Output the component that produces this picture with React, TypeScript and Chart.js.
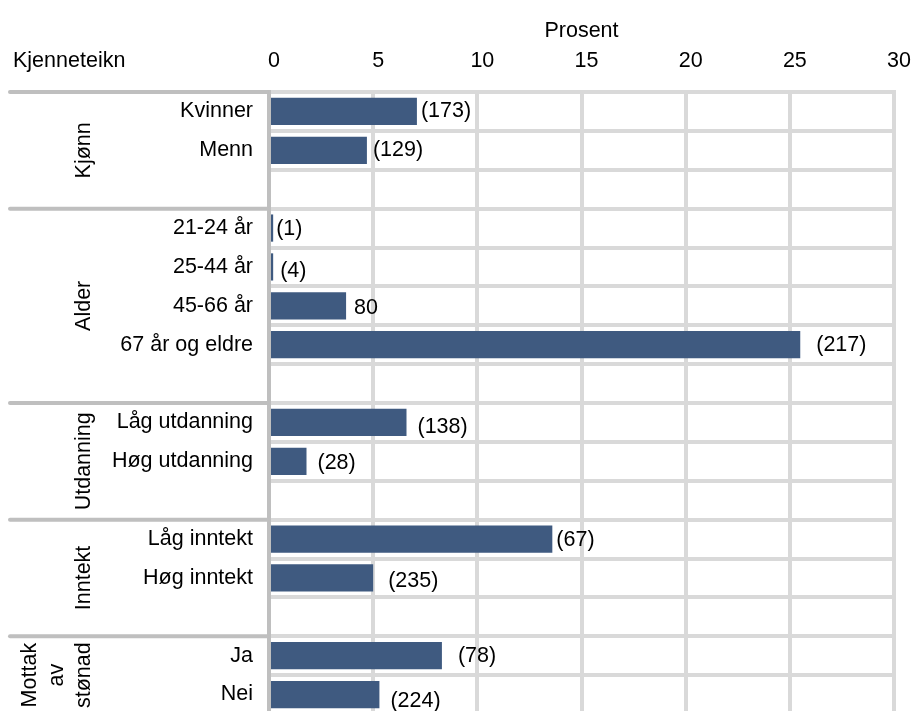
import React, { useEffect, useRef } from 'react';
import { Chart, registerables } from 'chart.js';

Chart.register(...registerables);

// ---- data ----
const rowLabels = [
  'Kvinner', 'Menn', '',
  '21-24 år', '25-44 år', '45-66 år', '67 år og eldre', '',
  'Låg utdanning', 'Høg utdanning', '',
  'Låg inntekt', 'Høg inntekt', '',
  'Ja', 'Nei',
];
const values: (number | null)[] = [
  7.1, 4.7, null,
  0.2, 0.2, 3.7, 25.5, null,
  6.6, 1.8, null,
  13.6, 5.0, null,
  8.3, 5.3,
];
const valueLabels = [
  '(173)', '(129)', '',
  '(1)', '(4)', '80', '(217)', '',
  '(138)', '(28)', '',
  '(67)', '(235)', '',
  '(78)', '(224)',
];
const groupNames = [['Kjønn'], ['Alder'], ['Utdanning'], ['Inntekt'], ['Mottak', 'av', 'stønad']];
const groupFirstRow = [0, 3, 8, 11, 14];
const groupLastRow = [2, 7, 10, 13, 15];
const xMin = 0;
const xMax = 30;
const xStep = 5;
const xTitle = 'Prosent';
const headerLabel = 'Kjenneteikn';

// ---- styling ----
const FONT = '"Liberation Sans", Arial, sans-serif';
const FS = 21.5;
const BAR = '#3f5a80';
const GRID_LIGHT = '#d9d9d9';
const GRID_DARK = '#bfbfbf';
const TICK_PAD = 18;
// label nudges in px (dx from bar end, dy from row centre)
const labelNudge: [number, number][] = [
  [4, 0], [6, 0], [0, 0],
  [3, 1], [7, 4], [8, 2], [16, 0], [0, 0],
  [11, 5], [11, 2], [0, 0],
  [4, 1], [15, 3], [0, 0],
  [16, 0], [11, 7],
];

const decorPlugin = {
  id: 'decor',
  afterDraw(chart: any) {
    const { ctx, chartArea } = chart;
    const y = chart.scales.y;
    const rowH = y.getPixelForValue(1) - y.getPixelForValue(0);
    ctx.save();
    // left group separators
    ctx.strokeStyle = GRID_DARK;
    ctx.lineWidth = 4;
    ctx.lineCap = 'round';
    groupFirstRow.forEach((r) => {
      const yy = y.getPixelForValue(r) - rowH / 2;
      ctx.beginPath();
      ctx.moveTo(10, yy);
      ctx.lineTo(chartArea.left - 2, yy);
      ctx.stroke();
    });
    ctx.fillStyle = '#000';
    ctx.font = `${FS}px ${FONT}`;
    // header
    ctx.textAlign = 'left';
    ctx.textBaseline = 'middle';
    ctx.fillText(headerLabel, 13, chartArea.top - TICK_PAD - FS * 0.6);
    // group labels (rotated)
    groupNames.forEach((lines, gi) => {
      const cy = (y.getPixelForValue(groupFirstRow[gi]) + y.getPixelForValue(groupLastRow[gi])) / 2;
      lines.forEach((line, k) => {
        const cx = 84 - (lines.length - 1 - k) * 27;
        ctx.save();
        ctx.translate(cx, cy);
        ctx.rotate(-Math.PI / 2);
        ctx.textAlign = 'center';
        ctx.textBaseline = 'middle';
        ctx.fillText(line, 0, 0);
        ctx.restore();
      });
    });
    // value labels
    const meta = chart.getDatasetMeta(0);
    ctx.textAlign = 'left';
    ctx.textBaseline = 'middle';
    meta.data.forEach((bar: any, i: number) => {
      if (values[i] == null || !valueLabels[i]) return;
      const [dx, dy] = labelNudge[i];
      ctx.fillText(valueLabels[i], bar.x + dx, bar.y + dy);
    });
    ctx.restore();
  },
};

export default function App() {
  const ref = useRef<HTMLCanvasElement | null>(null);
  useEffect(() => {
    if (!ref.current) return;
    const chart = new Chart(ref.current, {
      type: 'bar',
      data: {
        labels: rowLabels,
        datasets: [
          {
            data: values as any,
            backgroundColor: BAR,
            borderWidth: 0,
            barPercentage: 0.7,
            categoryPercentage: 1,
          },
        ],
      },
      options: {
        indexAxis: 'y',
        responsive: false,
        animation: false,
        layout: { padding: { left: 0, right: 19, top: 0, bottom: 2 } },
        plugins: { legend: { display: false }, tooltip: { enabled: false } },
        scales: {
          x: {
            position: 'top',
            min: xMin,
            max: xMax,
            afterFit: (s: any) => {
              s.height = 92;
              s.paddingLeft = 0;
              s.paddingRight = 0;
              s.paddingTop = 0;
              s.paddingBottom = 0;
            },
            ticks: {
              stepSize: xStep,
              color: '#000',
              font: { family: FONT, size: FS },
              padding: TICK_PAD,
              labelOffset: 5,
              maxRotation: 0,
            },
            grid: {
              drawTicks: false,
              lineWidth: 4,
              color: (c: any) => (c.tick && c.tick.value === 0 ? GRID_DARK : GRID_LIGHT),
            },
            border: { display: true, color: GRID_LIGHT, width: 4 },
            title: {
              display: true,
              text: xTitle,
              color: '#000',
              font: { family: FONT, size: FS },
              padding: { top: 18, bottom: 0 },
            },
          },
          y: {
            afterFit: (s: any) => {
              s.width = 269;
              s.paddingTop = 0;
              s.paddingBottom = 0;
              s.paddingLeft = 0;
              s.paddingRight = 0;
            },
            ticks: {
              color: '#000',
              font: { family: FONT, size: FS },
              padding: 16,
              autoSkip: false,
            },
            grid: { drawTicks: false, lineWidth: 4, color: GRID_LIGHT, offset: true },
            border: { display: true, color: GRID_DARK, width: 4, z: 1 },
          },
        },
      },
      plugins: [decorPlugin],
    });
    return () => chart.destroy();
  }, []);
  return (
    <div style={{ position: 'fixed', left: 0, top: 0, width: 913, height: 711, overflow: 'hidden', background: '#fff' }}>
      <canvas ref={ref} width={913} height={716} />
    </div>
  );
}
